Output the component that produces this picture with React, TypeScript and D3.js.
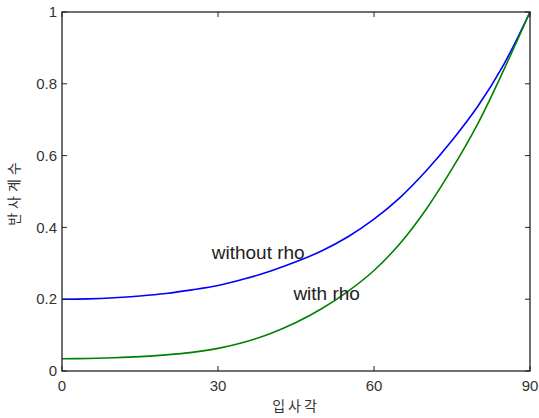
import React from "react";
import * as d3 from "d3";

const angles = [0, 5, 10, 15, 20, 25, 30, 35, 40, 45, 50, 55, 60, 65, 70, 75, 80, 85, 90];
const withoutRho = [0.2, 0.201, 0.204, 0.209, 0.216, 0.226, 0.238, 0.256, 0.278, 0.304, 0.335, 0.374, 0.423, 0.483, 0.557, 0.642, 0.738, 0.855, 1.0];
const withRho = [0.034, 0.035, 0.037, 0.04, 0.045, 0.052, 0.063, 0.08, 0.104, 0.135, 0.174, 0.222, 0.28, 0.355, 0.45, 0.563, 0.69, 0.84, 1.0];
const xTicks = [0, 30, 60, 90];
const yTicks = [0, 0.2, 0.4, 0.6, 0.8, 1];
const labelNames = ["without rho", "with rho"];
const labelX = [28.8, 44.5];
const labelY = [0.312, 0.198];
const seriesColors = ["#0000ff", "#008000"];

const W = 539;
const H = 418;
const M = { left: 62, right: 530, top: 12, bottom: 371 };

export default function App() {
  const x = d3.scaleLinear().domain([0, 90]).range([M.left, M.right]);
  const y = d3.scaleLinear().domain([0, 1]).range([M.bottom, M.top]);
  const line = d3
    .line<number>()
    .x((_, i) => x(angles[i]))
    .y((d) => y(d))
    .curve(d3.curveCatmullRom.alpha(0.5));
  const series = [withoutRho, withRho];
  const axisColor = "#222";
  const textColor = "#333";
  const tl = 5;
  const font = "Liberation Sans, Arial, Helvetica, sans-serif";
  return (
    <svg
      width={W}
      height={H}
      style={{ position: "absolute", left: 0, top: 0, background: "#fff" }}
      fontFamily={font}
    >
      <rect x={0} y={0} width={W} height={H} fill="#fff" />
      {series.map((s, k) => (
        <path key={k} d={line(s) || ""} fill="none" stroke={seriesColors[k]} strokeWidth={1.6} />
      ))}
      <rect
        x={M.left}
        y={M.top}
        width={M.right - M.left}
        height={M.bottom - M.top}
        fill="none"
        stroke={axisColor}
        strokeWidth={1.3}
      />
      {xTicks.map((t) => (
        <g key={"x" + t}>
          <line x1={x(t)} x2={x(t)} y1={M.bottom} y2={M.bottom - tl} stroke={axisColor} strokeWidth={1} />
          <line x1={x(t)} x2={x(t)} y1={M.top} y2={M.top + tl} stroke={axisColor} strokeWidth={1} />
          <text x={x(t)} y={391} textAnchor="middle" fontSize={15} fill={textColor}>
            {t}
          </text>
        </g>
      ))}
      {yTicks.map((t) => (
        <g key={"y" + t}>
          <line x1={M.left} x2={M.left + tl} y1={y(t)} y2={y(t)} stroke={axisColor} strokeWidth={1} />
          <line x1={M.right} x2={M.right - tl} y1={y(t)} y2={y(t)} stroke={axisColor} strokeWidth={1} />
          <text x={57} y={y(t)} dy="0.35em" textAnchor="end" fontSize={15} fill={textColor}>
            {t}
          </text>
        </g>
      ))}
      {labelNames.map((n, i) => (
        <text key={n} x={x(labelX[i])} y={y(labelY[i])} fontSize={19} fill="#222">
          {n}
        </text>
      ))}
      <text
        x={296}
        y={411}
        textAnchor="middle"
        fontSize={14}
        letterSpacing={3}
        fill={textColor}
        fontFamily="Noto Sans CJK KR, sans-serif"
      >
        입사각
      </text>
      <text
        transform={`translate(19,192) rotate(-90)`}
        textAnchor="middle"
        fontSize={14}
        letterSpacing={4}
        fill={textColor}
        fontFamily="Noto Sans CJK KR, sans-serif"
      >
        반사계수
      </text>
    </svg>
  );
}
